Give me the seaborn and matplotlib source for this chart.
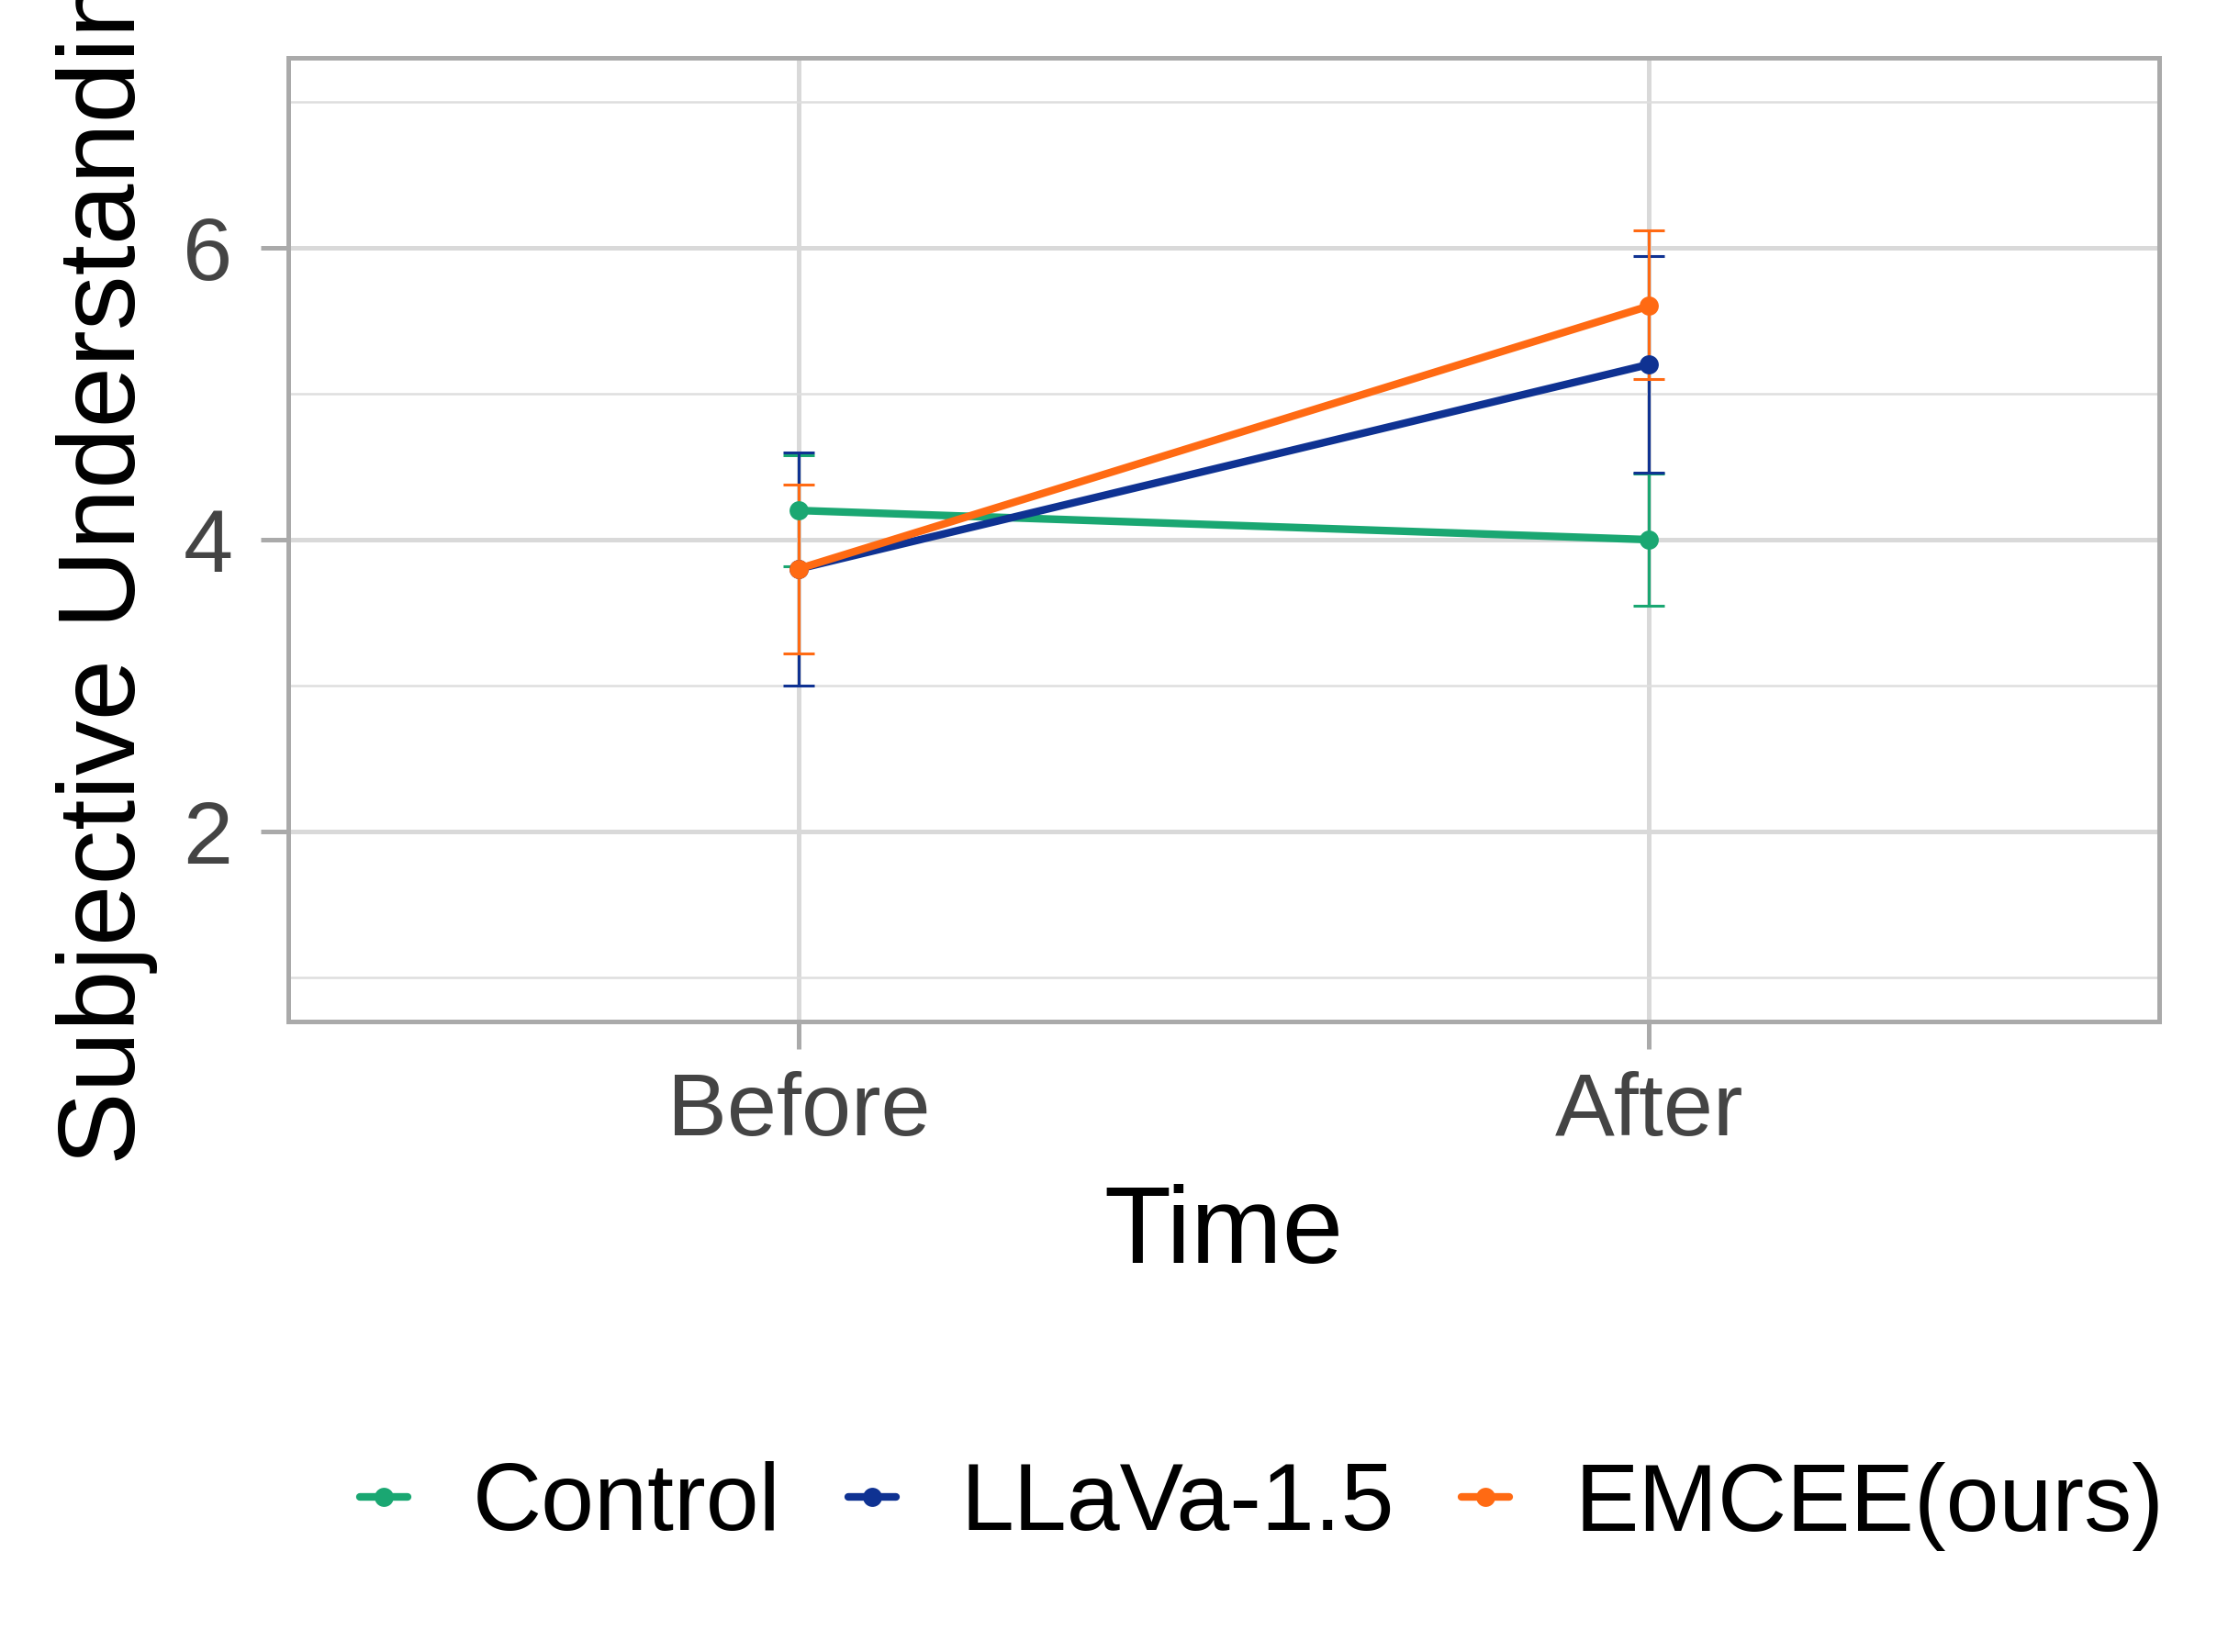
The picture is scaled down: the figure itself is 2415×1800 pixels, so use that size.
import matplotlib
matplotlib.use("Agg")
import matplotlib.pyplot as plt
import seaborn as sns
import pandas as pd
from matplotlib.ticker import FixedLocator

# ---- data ----
times = ["Before", "After"]
groups = ["Control", "LLaVa-1.5", "EMCEE(ours)"]
control_mean = [4.2, 4.0]
control_lo = [3.82, 3.55]
control_hi = [4.58, 4.45]
llava_mean = [3.8, 5.2]
llava_lo = [3.0, 4.46]
llava_hi = [4.6, 5.94]
emcee_mean = [3.8, 5.6]
emcee_lo = [3.22, 5.1]
emcee_hi = [4.38, 6.12]
colors = ["#1AA772", "#0F3292", "#FF6A13"]

means = [control_mean, llava_mean, emcee_mean]
los = [control_lo, llava_lo, emcee_lo]
his = [control_hi, llava_hi, emcee_hi]

rows = []
for g, m, lo, hi in zip(groups, means, los, his):
    for t, mv, l, h in zip(times, m, lo, hi):
        rows.append({"Time": t, "Group": g, "mean": mv, "lo": l, "hi": h})
df = pd.DataFrame(rows)

sns.set_theme(style="white")
plt.rcParams['font.family'] = ['Liberation Sans', 'DejaVu Sans']

fig = plt.figure(figsize=(12.075, 9), dpi=200)
L, R, T, B = 314, 2352, 63, 1113
ax = fig.add_axes([L/2415, 1-B/1800, (R-L)/2415, (B-T)/1800])

palette = dict(zip(groups, colors))

# error bars
for g in groups:
    sub = df[df.Group == g]
    ax.errorbar(sub["Time"], sub["mean"],
                yerr=[sub["mean"] - sub["lo"], sub["hi"] - sub["mean"]],
                fmt="none", ecolor=palette[g], elinewidth=1.1,
                capsize=6, capthick=1.1, zorder=3)

sns.lineplot(data=df, x="Time", y="mean", hue="Group", hue_order=groups,
             palette=palette, marker="o", markersize=7.5, markeredgewidth=0,
             linewidth=3.0, ax=ax, legend=True, zorder=4, sort=False)

ax.set_xlim(-0.6, 1.6)
ax.set_ylim(0.7, 7.3)
ax.yaxis.set_major_locator(FixedLocator([2, 4, 6]))
ax.yaxis.set_minor_locator(FixedLocator([1, 3, 5, 7]))

ax.grid(True, which="major", color="#D9D9D9", linewidth=1.8, zorder=0)
ax.grid(True, which="minor", axis="y", color="#DEDEDE", linewidth=0.9, zorder=0)
ax.set_axisbelow(True)

for s in ax.spines.values():
    s.set_color("#AAAAAA")
    s.set_linewidth(1.8)

ax.tick_params(axis="both", which="major", length=10.8, width=1.8,
               color="#AAAAAA", labelsize=35, labelcolor="#444444")
ax.tick_params(axis="y", which="major", pad=11, left=True)
ax.tick_params(axis="x", which="major", pad=8.5, bottom=True)
ax.tick_params(axis="y", which="minor", length=0)

ax.set_xlabel("Time", fontsize=43, color="black", labelpad=12)
ax.set_ylabel("Subjective Understanding", fontsize=43, color="black", labelpad=10)

leg = ax.legend(loc="center right", bbox_to_anchor=(2357/2415, 1-1641/1800),
                bbox_transform=fig.transFigure, ncol=3, frameon=False,
                fontsize=37.5, handlelength=0.5, handletextpad=0.68,
                columnspacing=0.7, borderaxespad=0, borderpad=0)
for h in leg.get_lines():
    h.set_linewidth(3.0)
for t in leg.get_texts():
    t.set_color("black")

fig.savefig("out.png", dpi=200)
